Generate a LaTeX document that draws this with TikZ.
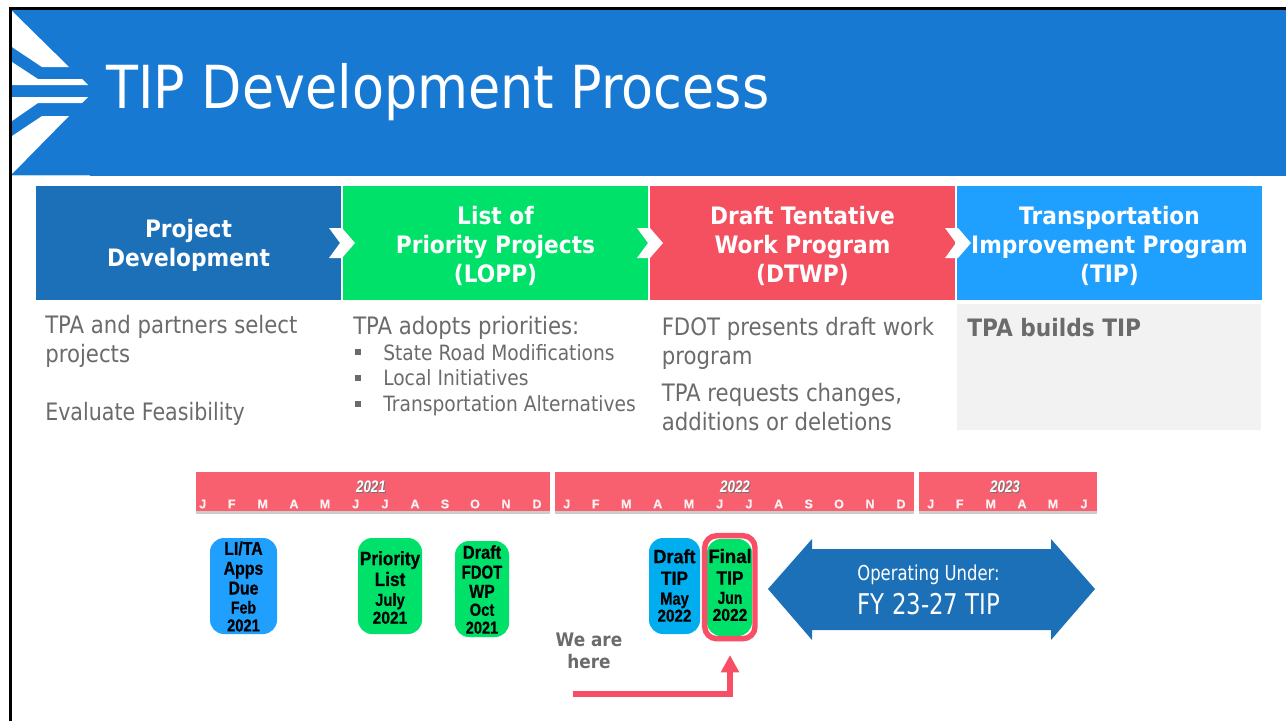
\documentclass[tikz,border=0pt]{standalone}
\usepackage{fontspec}
\usepackage{graphicx}
\usetikzlibrary{arrows.meta}
\newfontfamily\tah[FakeStretch=0.885]{DejaVu Sans}
\newfontfamily\tahb[FakeStretch=0.905]{DejaVu Sans}
\newfontfamily\tahtitle[FakeStretch=0.882]{DejaVu Sans}
\newfontfamily\tahn[FakeStretch=0.8]{DejaVu Sans}
\newfontfamily\ari[BoldFeatures={FakeBold=0.5}]{Liberation Sans}
\newfontfamily\arin[FakeStretch=0.8]{Liberation Sans}
\definecolor{hdr}{HTML}{1779D2}
\definecolor{cA}{HTML}{1C70B8}
\definecolor{cB}{HTML}{00E16A}
\definecolor{cC}{HTML}{F4505F}
\definecolor{cD}{HTML}{1FA0FF}
\definecolor{cE}{HTML}{00AEEF}
\definecolor{barc}{HTML}{F9606F}
\definecolor{bartxt}{HTML}{FDF2F3}
\definecolor{grayt}{HTML}{6B6B6B}
\definecolor{panelc}{HTML}{F2F2F2}
\definecolor{hotc}{HTML}{F94F66}
\newcommand{\fs}[1]{\fontsize{#1}{#1}\selectfont}
\newcommand{\lsk}[1]{\baselineskip=#1\relax}
\newcommand{\pl}[3]{\scalebox{#1}[1]{\fs{#2}#3}}
\tikzset{
 x=0.75pt,y=-0.75pt,
 phase/.style={minimum height=85.5pt,minimum width=228.75pt,inner sep=0},
 phasetext/.style={inner sep=0,text=white,align=center,font={\tahb\bfseries\fs{18}\lsk{21.75pt}}},
 body/.style={anchor=base west,inner sep=0,text=grayt,font={\tah\fs{18}}},
 subb/.style={anchor=base west,inner sep=0,text=grayt,font={\tah\fs{15.8}}},
 bul/.style={fill=grayt,minimum size=4.4pt,inner sep=0},
 month/.style={inner sep=0,text=bartxt,font={\ari\bfseries\fs{9.5}}},
 yr/.style={inner sep=0,font={\arin\bfseries\itshape\fs{12.5}}},
 pill/.style={rounded corners=10.5pt,inner sep=0},
 pilltext/.style={inner sep=0,align=center,text=black,font={\ari\bfseries\lsk{14.25pt}}},
}
\newcommand{\months}[3]{\foreach \mx/\ml [count=\mi] in {#3}{\node[month] (#1m\mi) at (\mx,#2) {\ml};}}
\newcommand{\pbox}[9]{\node[pill,fill=#2,minimum width=#5*0.75pt,minimum height=#6*0.75pt] (#1) at (#3,#4) {};
 \node[pilltext] (#1t) at (#7,#8) {#9};}
\begin{document}
\begin{tikzpicture}
\useasboundingbox (0,0) rectangle (1286,721);
\fill[white] (0,0) rectangle (1286,721);
\fill[hdr] (12,10) rectangle (1286,176);
\fill[black] (9,7) rectangle (1286,10);
\fill[black] (9,7) rectangle (12,721);
\fill[white] (12,11)--(69,67)--(42,67)--(12,47)--cycle;
\fill[white] (12,62)--(38,79)--(82,79)--(88,85)--(12,85)--cycle;
\fill[white] (12,97)--(88,97)--(82,103)--(38,103)--(12,121)--cycle;
\fill[white] (12,136)--(42,116)--(69,116)--(12,174)--cycle;
\fill[white!70!hdr] (12,174.5) rectangle (90,176);
\node[anchor=base west,inner sep=0,text=white,font={\tahtitle\fs{44.5}}] (title) at (106,108) {TIP Development Process};
% phases
\node[phase,fill=cA] (p1) at (188.5,243) {};
\node[phase,fill=cB] (p2) at (495.5,243) {};
\node[phase,fill=cC] (p3) at (802.5,243) {};
\node[phase,fill=cD] (p4) at (1109.5,243) {};
\node[phasetext] (p1t) at (188.5,245.5) {Project\\Development};
\node[phasetext] (p2t) at (495.5,246) {List of\\Priority Projects\\(LOPP)};
\node[phasetext] (p3t) at (802.5,246) {Draft Tentative\\Work Program\\(DTWP)};
\node[phasetext] (p4t) at (1109.5,246) {Transportation\\Improvement Program\\(TIP)};
\foreach \dx in {0,308,616}{
 \fill[white,xshift=\dx*0.75pt] (329,228)--(342,228)--(355,243)--(342,258)--(329,258)--(340,243)--cycle;
}
% text
\node[body] (t1) at (45,333) {TPA and partners select};
\node[body] (t2) at (45,362) {projects};
\node[body] (t3) at (45,420) {\scalebox{.97}[1]{Evaluate Feasibility}};
\node[body] (t4) at (353,334) {TPA adopts priorities:};
\node[bul] (b1) at (358,352) {}; \node[subb] (s1) at (383,360) {State Road Modifications};
\node[bul] (b2) at (358,378) {}; \node[subb] (s2) at (383,385) {Local Initiatives};
\node[bul] (b3) at (358,404) {}; \node[subb] (s3) at (383,411) {Transportation Alternatives};
\node[body] (t5) at (661.5,335) {FDOT presents draft work};
\node[body] (t6) at (661.5,364) {program};
\node[body] (t7) at (661.5,401) {TPA requests changes,};
\node[body] (t8) at (661.5,430) {additions or deletions};
\fill[panelc] (957,304) rectangle (1261,430);
\node[anchor=base west,inner sep=0,text=grayt,font={\tahb\bfseries\fs{18}}] (t9) at (967,336) {TPA builds TIP};
% timeline
\foreach \a/\b in {196/550,555/914,919/1097}{
 \fill[black!20] (\a,500) rectangle (\b,514);
 \fill[barc] (\a,472) rectangle (\b,511);
}
\months{a}{504}{202.7/J,231.7/F,262.7/M,294/A,325/M,355.7/J,385/J,415/A,445/S,475/O,506/N,537/D}
\months{b}{504}{566.7/J,595.7/F,626.3/M,657.7/A,689/M,719.7/J,749/J,778.7/A,808.7/S,839/O,870/N,901/D}
\months{c}{504}{930.7/J,959.7/F,990.7/M,1022/A,1053/M,1084/J}
\foreach \nm/\yx/\yt in {ya/371/2021,yb/735/2022,yc/1005/2023}{
 \node[yr,text=black!55] at (\yx+1,487.7) {\yt};
 \node[yr,text=white] (\nm) at (\yx,487) {\yt};
}
% pills
\pbox{li}{cD}{243.5}{586}{67}{96}{243.5}{586.5}{\pl{.85}{14}{LI/TA}\\[.6pt]\pl{.85}{14}{Apps}\\[.6pt]\pl{.85}{14}{Due}\\\pl{.82}{13}{Feb}\\[-.8pt]\pl{.85}{13}{2021}}
\pbox{pr}{cB}{390}{586}{64}{96}{390}{587.5}{\pl{.89}{14.5}{Priority}\\[1.4pt]\pl{.89}{14.5}{List}\\[.6pt]\pl{.85}{13}{July}\\[-.8pt]\pl{.9}{13}{2021}}
\pbox{df}{cB}{482}{589}{54}{96}{482}{589.5}{\pl{.88}{14}{Draft}\\[.6pt]\pl{.8}{14}{FDOT}\\[.2pt]\pl{.85}{14}{WP}\\[-.8pt]\pl{.85}{13}{Oct}\\[-.8pt]\pl{.84}{13}{2021}}
\pbox{dt}{cE}{674.5}{586}{51}{96}{674.5}{585.5}{\pl{.93}{14.5}{Draft}\\[2pt]\pl{.9}{14.5}{TIP}\\[.6pt]\pl{.85}{13}{May}\\[-1.5pt]\pl{.88}{13}{2022}}
\pbox{ft}{cB}{729.5}{587.5}{45}{97}{730}{585}{\pl{.96}{14.5}{Final}\\[2pt]\pl{.9}{14.5}{TIP}\\[.2pt]\pl{.8}{13}{Jun}\\[-1.5pt]\pl{.9}{13}{2022}}
\draw[hotc,line width=4.1pt,rounded corners=9pt] (704.7,535.7) rectangle (755,638.7);
% operating arrow
\fill[cA] (768,589)--(812,539)--(812,549)--(1051,549)--(1051,539)--(1095,589)--(1051,640)--(1051,630)--(812,630)--(812,640)--cycle;
\node[inner sep=0,text=white,font={\tahn\fs{15.4}}] (op1) at (928.5,575) {Operating Under:};
\node[inner sep=0,text=white,font={\tahn\fs{21.4}}] (op2) at (929,604) {FY 23-27 TIP};
% here
\node[inner sep=0,align=center,text=grayt,font={\tahb\bfseries\fs{14}\lsk{16.5pt}}] (here) at (589,650.5) {We are\\here};
\coordinate (hs) at (573,693.5);
\coordinate (he) at (730,655);
\draw[hotc,line width=4.5pt,-{Triangle[length=13pt,width=13pt]}] (hs) -| (he);
\end{tikzpicture}
\end{document}
